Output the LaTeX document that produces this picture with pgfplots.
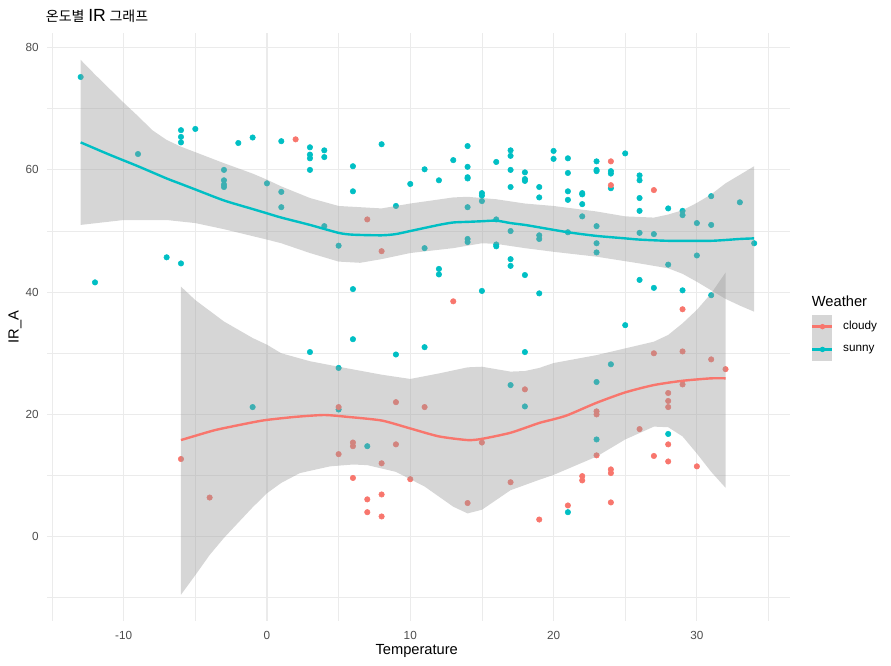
\documentclass[border=0pt]{standalone}
\usepackage{pgfplots}
\pgfplotsset{compat=1.18}
\usepackage{fontspec}
\setmainfont{Liberation Sans}
\newfontfamily\kr{Noto Sans CJK KR}
\definecolor{cloudy}{HTML}{F8766D}
\definecolor{sunny}{HTML}{00BFC4}
\definecolor{ribbon}{HTML}{999999}
\definecolor{gridc}{HTML}{EBEBEB}
\definecolor{tickc}{HTML}{4D4D4D}
\begin{document}
\begin{tikzpicture}
\begin{axis}[
  at={(0pt,0pt)}, anchor=south west,
  scale only axis, width=557.25pt, height=441pt,
  xmin=-15.35, xmax=36.5, ymin=-13.8, ymax=82.4,
  enlargelimits=false,
  axis line style={draw=none},
  tick style={draw=none},
  xtick={-10,0,10,20,30}, ytick={0,20,40,60,80},
  minor xtick={-15,-5,5,15,25,35}, minor ytick={-10,10,30,50,70},
  grid=both,
  major grid style={color=gridc, line width=0.85pt},
  minor grid style={color=gridc, line width=0.5pt},
  /pgf/number format/assume math mode=true,
  xticklabel style={font=\fontsize{8.8}{10}\selectfont, text=tickc, anchor=center, inner sep=0pt, yshift=-10.5pt},
  yticklabel style={font=\fontsize{8.8}{10}\selectfont, text=tickc, anchor=east, inner sep=0pt, xshift=-6pt},
  legend style={draw=none, fill=none, inner sep=0pt, row sep=0pt,
    at={(1.02826,0.52041)}, anchor=north west,
    nodes={inner sep=0pt, anchor=west, font=\fontsize{8.8}{10}\selectfont, text=black}},
  legend cell align=left,
  clip mode=individual,
]
% points: sunny
\addplot[forget plot, only marks, mark=*, mark size=2.05pt, color=sunny, mark options={draw=none, fill=sunny}] coordinates {
(-13,75.2) (-12,41.6) (-9,62.6) (-7,45.7) (-6,66.5) (-6,65.4) (-6,64.5) (-6,44.7)
(-5,66.7) (-3,60.0) (-3,58.3) (-3,57.6) (-3,57.2) (-2,64.4) (-1,65.3) (-1,21.2)
(0,57.8) (1,64.7) (1,56.4) (1,53.9) (3,63.7) (3,62.5) (3,61.9) (3,60.0) (3,30.2)
(4,63.2) (4,62.1) (4,50.8) (5,47.6) (5,27.6) (5,20.8) (6,60.6) (6,56.5) (6,40.5)
(6,32.3) (7,14.8) (8,64.2) (9,54.1) (9,29.8) (10,57.7) (11,60.1) (11,47.2) (11,31.0)
(12,58.3) (12,43.8) (12,42.9) (13,61.6) (14,63.9) (14,60.5) (14,58.8) (14,58.6)
(14,53.9) (14,48.7) (14,48.2) (15,56.2) (15,55.8) (15,54.9) (15,40.2) (16,61.3)
(16,51.9) (16,47.8) (16,47.5) (17,63.2) (17,62.3) (17,60.0) (17,57.2) (17,50.0)
(17,45.4) (17,44.3) (17,24.8) (18,59.6) (18,58.5) (18,58.2) (18,42.8) (18,30.2)
(18,21.3) (19,57.2) (19,55.5) (19,49.3) (19,48.7) (19,39.8) (20,63.1) (20,61.8)
(21,61.9) (21,59.5) (21,56.5) (21,55.1) (21,49.8) (21,4.0) (22,56.2) (22,56.0)
(22,54.4) (22,52.4) (23,61.4) (23,60.0) (23,59.8) (23,50.8) (23,48.0) (23,46.5)
(23,25.3) (23,15.9) (24,59.8) (24,59.4) (24,57.0) (24,28.2) (25,62.7) (25,34.6)
(26,59.1) (26,58.3) (26,55.4) (26,53.3) (26,49.7) (26,42.0) (27,49.5) (27,40.7)
(28,53.7) (28,44.5) (28,16.8) (29,53.3) (29,52.6) (29,40.3) (30,51.3) (30,46.0)
(31,55.7) (31,51.0) (31,39.5) (33,54.7) (34,48.0)
};
% points: cloudy
\addplot[forget plot, only marks, mark=*, mark size=2.05pt, color=cloudy, mark options={draw=none, fill=cloudy}] coordinates {
(-6,12.7) (-4,6.4) (2,65.0) (5,21.2) (5,13.5) (6,15.4) (6,14.8) (6,9.6) (7,51.9)
(7,6.1) (7,4.0) (8,46.7) (8,12.0) (8,6.9) (8,3.3) (9,22.0) (9,15.1) (10,9.4)
(11,21.2) (13,38.5) (14,5.5) (15,15.4) (17,8.9) (18,24.1) (19,2.8) (21,5.1)
(22,9.9) (22,9.2) (23,20.5) (23,20.0) (23,13.3) (24,61.4) (24,57.5) (24,11.0)
(24,10.4) (24,5.6) (26,17.6) (27,56.7) (27,30.0) (27,13.2) (28,23.5) (28,22.2)
(28,21.2) (28,15.1) (28,12.3) (29,37.2) (29,30.3) (29,24.9) (30,11.5) (31,29.0)
(32,27.4)
};
% cloudy ribbon
\addplot[forget plot, draw=none, fill=ribbon, fill opacity=0.4] coordinates {
(-6,40.9) (-5,38.7) (-3,35.2) (-1,32.5) (0,31.4) (1,30.0) (3,28.7) (5,27.8)
(8,26.5) (10,25.8) (12,26.7) (14,27.7) (15,27.8) (17,27.0) (18,27.1) (19,27.6)
(20,28.4) (23,29.7) (25,30.8) (27,31.9) (28,33.0) (29,34.9) (30,37.1) (31,39.8) (32,43.2)
(32,8.0) (31,10.6) (30,13.6) (29,16.4) (28,17.9) (27,18.0) (25,15.9) (23,13.1)
(20,10.1) (19,9.3) (17,7.6) (16,6.0) (15,4.4) (14,3.8) (13,4.9) (11,8.2) (9,10.6)
(7,11.7) (6,11.8) (4.4,11.5) (2.3,10.4) (1,8.8) (0,7.1) (-1,4.8) (-2,2.3)
(-3,-0.2) (-4,-3.0) (-5,-6.3) (-6,-9.5)
};
\addplot[forget plot, color=cloudy, line width=1.8pt, smooth, tension=0.4] coordinates {
(-6,15.8) (-5,16.5) (-3.5,17.5) (-1,18.7) (0,19.1) (2,19.6) (4,19.9) (5.6,19.6)
(8,19.0) (10,17.7) (12,16.4) (14,15.8) (15,16.0) (17,17.0) (19,18.6) (20,19.2)
(21,19.9) (23,21.9) (25,23.6) (27,24.8) (29,25.5) (31,25.9) (32,25.9)
};
% sunny ribbon
\addplot[forget plot, draw=none, fill=ribbon, fill opacity=0.4] coordinates {
(-13,78.0) (-12,75.6) (-11,73.3) (-10,71.0) (-9,68.8) (-8,66.5) (-7,64.9) (-6,63.8)
(-5,62.9) (-3,61.1) (-1,59.4) (0,58.4) (1,57.3) (3,55.4) (5,54.1) (8,53.7)
(10,54.5) (13,55.5) (14,55.6) (16,55.2) (18,54.5)
(20,54.1) (23,53.2) (25,52.4) (27,52.2) (28,52.7) (29,53.4) (30,54.6) (31,56.0)
(32,57.8) (33,59.2) (34,60.6)
(34,36.8) (33,37.8) (32,38.9) (31,40.3) (30,41.7) (29,43.0) (28,43.9) (26,44.7)
(23,45.8) (20,46.6) (18,47.2) (16,47.9) (15,48.0) (13,47.2) (10,46.4) (8,45.4)
(6.5,44.8) (5,45.0) (3,46.4) (1,48.0) (0,48.6) (-3,50.3) (-5,51.3) (-7,51.8)
(-10,51.8) (-13,51.0)
};
\addplot[forget plot, color=sunny, line width=1.8pt, smooth, tension=0.4] coordinates {
(-13,64.5) (-11,62.5) (-9,60.6) (-7,58.6) (-6,57.7) (-5,56.8) (-3,55.0) (-1,53.6)
(0,52.9) (1,52.2) (3,51.0) (5,49.7) (6,49.4) (8,49.3) (9,49.5) (10,50.0) (12,51.0)
(13,51.4) (14,51.5) (15,51.6) (16,51.7) (17,51.3) (18,51.0) (19,50.6) (21,49.8)
(23,49.2) (25,48.8) (26,48.6) (28,48.4) (31,48.4) (33,48.7) (34,48.8)
};
% legend
\addlegendimage{legend image code/.code={
  \path[draw=none, fill=none] (0pt,-8.55pt) (23pt,8.55pt);
  \path[draw=none, fill=ribbon, fill opacity=0.4] (0pt,-8.55pt) rectangle (15pt,8.55pt);
  \path[draw=cloudy, fill=none, line width=1.8pt] (0pt,0pt) -- (15pt,0pt);
  \path[draw=none, fill=cloudy] (7.5pt,0pt) circle (2.05pt);
}}
\addlegendentry{cloudy}
\addlegendimage{legend image code/.code={
  \path[draw=none, fill=none] (0pt,-8.55pt) (23pt,8.55pt);
  \path[draw=none, fill=ribbon, fill opacity=0.4] (0pt,-8.55pt) rectangle (15pt,8.55pt);
  \path[draw=sunny, fill=none, line width=1.8pt] (0pt,0pt) -- (15pt,0pt);
  \path[draw=none, fill=sunny] (7.5pt,0pt) circle (2.05pt);
}}
\addlegendentry{sunny}
% titles and labels
\node[anchor=base west, inner sep=0pt] at (axis description cs:-0.0018,1.0187)
  {{\kr\fontsize{10.5}{12}\selectfont 온도별} {\fontsize{13.2}{15}\selectfont IR} {\kr\fontsize{10.5}{12}\selectfont 그래프}};
\node[anchor=base, inner sep=0pt, font=\fontsize{11}{13}\selectfont] at (axis description cs:0.4976,-0.0578) {Temperature};
\node[rotate=90, anchor=center, inner sep=0pt, font=\fontsize{11}{13}\selectfont] at (axis description cs:-0.0431,0.5) {IR\_A};
\node[anchor=west, inner sep=0pt, font=\fontsize{11}{13}\selectfont] at (axis description cs:1.0291,0.5442) {Weather};
\end{axis}
\pgfresetboundingbox
\path[use as bounding box] (-35.25pt,-33.75pt) rectangle (633pt,465.75pt);
\end{tikzpicture}
\end{document}
